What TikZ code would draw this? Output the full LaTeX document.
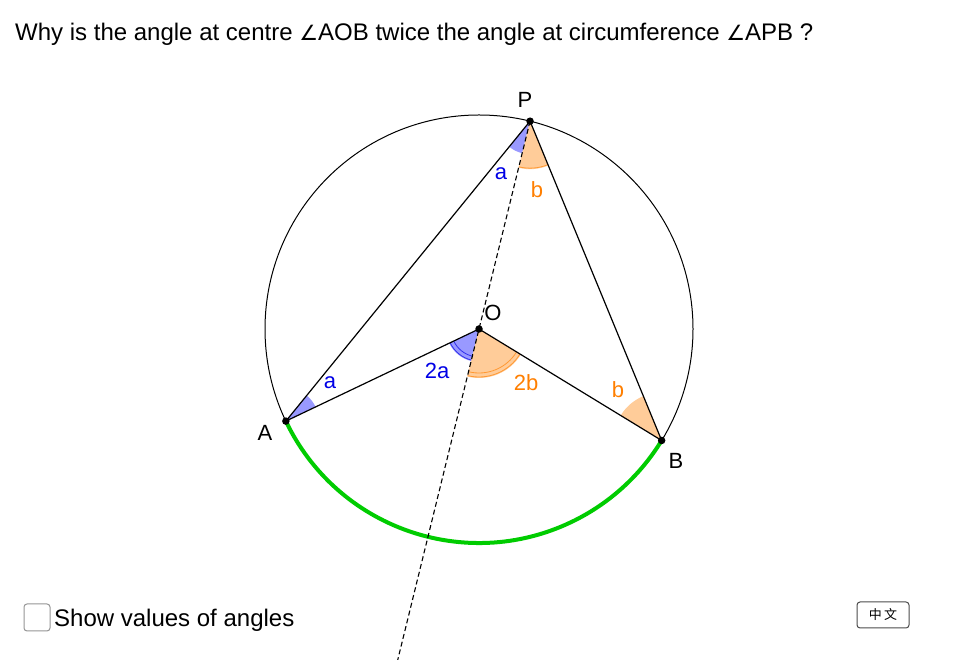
\documentclass[tikz,border=0pt]{standalone}
\usepackage{fontspec}
\usetikzlibrary{calc}
\setmainfont{Liberation Sans}
\newfontfamily\symfont{DejaVu Sans}
\newfontfamily\cjkfont{Noto Sans CJK SC}
\definecolor{angblue}{RGB}{0,0,230}
\definecolor{blueshade}{RGB}{153,153,255}
\definecolor{angorange}{RGB}{255,127,0}
\definecolor{orangeshade}{RGB}{255,204,153}
\definecolor{arcgreen}{RGB}{0,204,0}
\definecolor{boxgray}{RGB}{150,150,150}
\tikzset{
  geoline/.style={line width=1.2pt, black},
  dashline/.style={line width=1.1pt, black, dash pattern=on 5pt off 3pt},
  bluewedge/.style={fill=blueshade},
  orangewedge/.style={fill=orangeshade},
  bluearc/.style={line width=0.8pt, draw=angblue!80},
  orangearc/.style={line width=0.8pt, draw=angorange!80},
  ptdot/.style={circle, fill=black, inner sep=0pt, minimum size=7.5pt},
  ptlabel/.style={font=\fontsize{22}{26}\selectfont, inner sep=0pt},
  bluelabel/.style={font=\fontsize{22}{26}\selectfont, text=angblue, inner sep=0pt},
  orangelabel/.style={font=\fontsize{22}{26}\selectfont, text=angorange, inner sep=0pt},
}
\begin{document}
\begin{tikzpicture}[x=1pt,y=1pt]
\useasboundingbox (0,0) rectangle (960,660);
\fill[white] (0,0) rectangle (960,660);
% geometry
\coordinate (O) at (479,331);
\coordinate (P) at ($(O)+(76.2:214)$);
\coordinate (A) at ($(O)+(205.5:214)$);
\coordinate (B) at ($(O)+(328.6:214)$);
\coordinate (E) at (397.7,0);
% angle sectors
\fill[bluewedge] (P) -- ++(230.85:33) arc[start angle=230.85, end angle=256.2, radius=33] -- cycle;
\fill[orangewedge] (P) -- ++(256.2:48) arc[start angle=256.2, end angle=292.4, radius=48] -- cycle;
\fill[bluewedge] (O) -- ++(205.5:33) arc[start angle=205.5, end angle=256.2, radius=33] -- cycle;
\fill[orangewedge] (O) -- ++(256.2:49) arc[start angle=256.2, end angle=328.6, radius=49] -- cycle;
\fill[bluewedge] (A) -- ++(25.5:33) arc[start angle=25.5, end angle=50.85, radius=33] -- cycle;
\fill[orangewedge] (B) -- ++(112.4:48) arc[start angle=112.4, end angle=148.6, radius=48] -- cycle;
% decoration arcs
\draw[orangearc] ([shift={(256.2:47)}]P) arc[start angle=256.2, end angle=292.4, radius=47];
\draw[bluearc] ([shift={(205.5:32)}]O) arc[start angle=205.5, end angle=256.2, radius=32];
\draw[bluearc] ([shift={(205.5:28)}]O) arc[start angle=205.5, end angle=256.2, radius=28];
\draw[orangearc] ([shift={(256.2:48)}]O) arc[start angle=256.2, end angle=328.6, radius=48];
\draw[orangearc] ([shift={(256.2:44)}]O) arc[start angle=256.2, end angle=328.6, radius=44];
% circle and lines
\draw[geoline, line width=1pt] (O) circle[radius=214];
\draw[line width=4pt, arcgreen] ([shift={(205.5:214)}]O) arc[start angle=205.5, end angle=328.6, radius=214];
\draw[geoline] (A) -- (P) -- (B) -- (O) -- cycle;
\draw[dashline] (P) -- (E);
% points
\node[ptdot] (pA) at (A) {};
\node[ptdot] (pB) at (B) {};
\node[ptdot] (pO) at (O) {};
\node[ptdot] (pP) at (P) {};
% point labels
\node[ptlabel] (lP) at (525,560) {P};
\node[ptlabel] (lO) at (493,347) {O};
\node[ptlabel] (lA) at (265,227) {A};
\node[ptlabel] (lB) at (676,199) {B};
% angle labels
\node[bluelabel] (la1) at (501,486) {a};
\node[orangelabel] (lb1) at (537,470) {b};
\node[bluelabel] (la2) at (330,277) {a};
\node[bluelabel] (l2a) at (437,289) {2a};
\node[orangelabel] (l2b) at (526,277) {2b};
\node[orangelabel] (lb2) at (618,270) {b};
% title
\node[anchor=base west, inner sep=0pt, font=\fontsize{24}{28}\selectfont] (title) at (15,619.5)
  {Why is the angle at centre {\symfont\fontsize{21}{26}\selectfont ∠}AOB twice the angle at circumference {\symfont\fontsize{21}{26}\selectfont ∠}APB ?};
% checkbox
\draw[boxgray, line width=1pt, rounded corners=3pt] (24,29) rectangle (50,56);
\node[anchor=west, inner sep=0pt, font=\fontsize{24}{28}\selectfont] (chk) at (54,40) {Show values of angles};
% language button
\draw[black!70, line width=1pt, rounded corners=3pt, fill=white] (857,32) rectangle (909,58);
\node[font=\cjkfont\fontsize{13}{15}\selectfont] (lang) at (883,45) {中\,文};
\end{tikzpicture}
\end{document}
